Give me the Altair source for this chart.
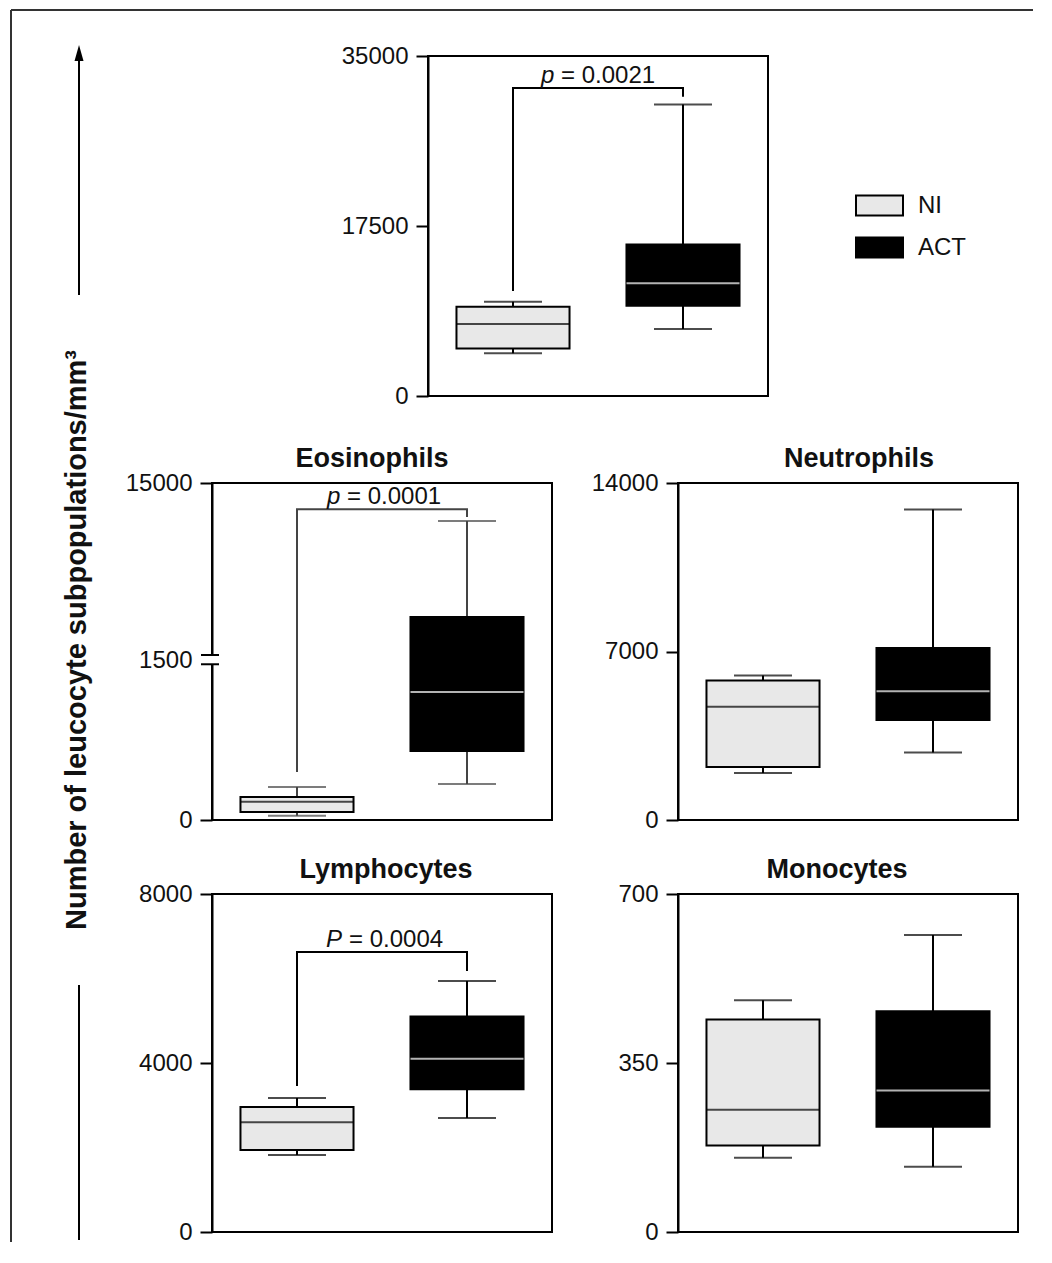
import altair as alt
import pandas as pd

groups = ["NI", "ACT"]
# each list: [lower whisker, Q1, median, Q3, upper whisker]
total_NI = [4400, 4900, 7400, 9200, 9700]
total_ACT = [6900, 9300, 11600, 15600, 30000]
eos_NI = [40, 75, 170, 215, 310]
eos_ACT = [337, 647, 1200, 4780, 12100]
neut_NI = [1950, 2200, 4700, 5800, 6000]
neut_ACT = [2800, 4150, 5350, 7150, 12900]
lymph_NI = [1820, 1940, 2600, 2960, 3170]
lymph_ACT = [2700, 3380, 4100, 5100, 5940]
mono_NI = [154, 179, 253, 440, 480]
mono_ACT = [135, 218, 293, 457, 615]

total_ticks = [0, 17500, 35000]
eos_ticks = [0, 1500, 15000]
neut_ticks = [0, 7000, 14000]
lymph_ticks = [0, 4000, 8000]
mono_ticks = [0, 350, 700]

# significance brackets: [NI leg bottom, bracket level, ACT leg bottom]
total_bracket = [10800, 31700, 30800]
eos_bracket = [450, 13000, 12400]
lymph_bracket = [3456, 6630, 6180]
eos_break = [1460, 1880]

FONT = "Liberation Sans"
W = 340
BW = 113
NI_FILL = "#e8e8e8"
Y_TITLE = "Number of leucocyte subpopulations/mm\u00b3"


def panel(ni, act, ticks, height, yscale=None, title=None, title_dx=0,
          bracket=None, p_letter=None, p_rest=None, p_x=113, p_gap=20,
          line_color="black", legend=None, extra=None, tick_color="black", x0=0):
    df = pd.DataFrame({
        "group": groups,
        "lo": [ni[0], act[0]], "q1": [ni[1], act[1]], "med": [ni[2], act[2]],
        "q3": [ni[3], act[3]], "hi": [ni[4], act[4]],
        "mc": ["black", "white"],
    })
    if yscale is None:
        yscale = alt.Scale(domain=[ticks[0], ticks[-1]], nice=False, zero=True)
    axis = alt.Axis(values=ticks, format="d", grid=False, tickColor=tick_color, offset=-x0)

    def Y(field):
        return alt.Y(f"{field}:Q", scale=yscale, axis=axis, title=None)

    if x0 == 0:
        xscale = alt.Scale(domain=groups, paddingInner=0.335, paddingOuter=0.1675)
    else:
        xscale = alt.Scale(domain=groups, paddingInner=0.335, paddingOuter=0.1675,
                           range=[x0, x0 + W])
    X = alt.X("group:N", sort=groups, axis=None, title=None, scale=xscale)
    base = alt.Chart(df)
    layers = [
        base.mark_rule(color=line_color, strokeWidth=2).encode(x=X, y=Y("lo"), y2="q1"),
        base.mark_rule(color=line_color, strokeWidth=2).encode(x=X, y=Y("q3"), y2="hi"),
        base.mark_tick(size=58, thickness=2, color=line_color).encode(x=X, y=Y("lo")),
        base.mark_tick(size=58, thickness=2, color=line_color).encode(x=X, y=Y("hi")),
        base.mark_bar(stroke="black", strokeWidth=2).encode(
            x=X, y=Y("q1"), y2="q3",
            fill=alt.Fill("group:N", scale=alt.Scale(domain=groups, range=[NI_FILL, "black"]),
                          legend=legend)),
        base.mark_tick(size=BW, thickness=2).encode(
            x=X, y=Y("med"), color=alt.Color("mc:N", scale=None)),
    ]
    if bracket is not None:
        bdf = pd.DataFrame({"group": ["NI", "NI", "ACT", "ACT"],
                            "v": [bracket[0], bracket[1], bracket[1], bracket[2]],
                            "o": [0, 1, 2, 3]})
        layers.append(alt.Chart(bdf).mark_line(color=line_color, strokeWidth=2).encode(
            x=X, y=Y("v"), order="o:Q"))
        tdf = pd.DataFrame({"v": [bracket[1]]})
        layers.append(alt.Chart(tdf).mark_text(
            text=p_letter, fontStyle="italic", align="left", baseline="alphabetic",
            dy=-5, fontSize=24, font=FONT, color="#111").encode(x=alt.value(x0 + p_x), y=Y("v")))
        layers.append(alt.Chart(tdf).mark_text(
            text=p_rest, align="left", baseline="alphabetic",
            dy=-5, fontSize=24, font=FONT, color="#111").encode(
            x=alt.value(x0 + p_x + p_gap), y=Y("v")))
    if extra is not None:
        layers.extend(extra(Y))
    props = dict(width=W, height=height)
    if title:
        props["title"] = alt.TitleParams(title, fontSize=27, font=FONT, fontWeight="bold",
                                         frame="group", anchor="middle", baseline="alphabetic",
                                         offset=-23, dx=title_dx, color="#111")
    return alt.layer(*layers).properties(**props)


dummy = pd.DataFrame({"a": [0]})
TX = -250  # top panel plot-left relative to its grid cell


def top_decor(Y):
    return [
        # frame of the top panel
        alt.Chart(dummy).mark_rect(fill="transparent", stroke="black", strokeWidth=2).encode(
            x=alt.value(TX), x2=alt.value(TX + W), y=alt.value(0), y2=alt.value(340)),
        # outer figure border
        alt.Chart(dummy).mark_rule(color="#333", strokeWidth=2).encode(
            x=alt.value(-667), y=alt.value(-46), y2=alt.value(1186)),
        alt.Chart(dummy).mark_rule(color="#333", strokeWidth=2).encode(
            x=alt.value(-667), x2=alt.value(355), y=alt.value(-46)),
        # axis-title arrow
        alt.Chart(dummy).mark_rule(color="black", strokeWidth=2).encode(
            x=alt.value(-599), y=alt.value(4), y2=alt.value(239)),
        alt.Chart(dummy).mark_point(shape="M0,-1L0.45,0.6L-0.45,0.6Z", filled=True, size=400,
                                    color="black", opacity=1).encode(
            x=alt.value(-599), y=alt.value(-1)),
        alt.Chart(dummy).mark_rule(color="black", strokeWidth=2).encode(
            x=alt.value(-599), y=alt.value(929), y2=alt.value(1184)),
        alt.Chart(dummy).mark_text(text=Y_TITLE, angle=270, fontSize=29, fontWeight="bold",
                                   font=FONT, color="#111", align="center", baseline="middle").encode(
            x=alt.value(-601), y=alt.value(584)),
    ]


def eos_decor(Y):
    bdf = pd.DataFrame({"v": eos_break})
    gdf = pd.DataFrame({"a": [eos_break[0]], "b": [eos_break[1]]})
    return [
        alt.Chart(gdf).mark_rule(color="white", strokeWidth=5).encode(
            x=alt.value(0), y=Y("a"), y2="b"),
        alt.Chart(bdf).mark_rule(color="black", strokeWidth=2).encode(
            x=alt.value(-11), x2=alt.value(7), y=Y("v")),
    ]


legend = alt.Legend(title=None, orient="none", legendX=643, legendY=125,
                    symbolType="M-1,-0.425H1V0.425H-1Z", symbolSize=2209,
                    symbolStrokeColor="black", symbolStrokeWidth=2,
                    labelFont=FONT, labelFontSize=24, labelColor="#111",
                    labelOffset=14, rowPadding=3, padding=0)

top = panel(total_NI, total_ACT, total_ticks, 340, bracket=total_bracket,
            p_letter="p", p_rest="= 0.0021", p_x=113, p_gap=20, legend=legend,
            extra=top_decor, x0=TX).properties(view=alt.ViewBackground(stroke="transparent"))

eos_scale = alt.Scale(domain=[0, 1500, 15000], range=[337, 177, 0], nice=False, zero=False)
eos_tick_color = {"condition": {"test": "datum.value === 1500", "value": "transparent"},
                  "value": "black"}
eos = panel(eos_NI, eos_ACT, eos_ticks, 337, yscale=eos_scale, title="Eosinophils", title_dx=-10,
            bracket=eos_bracket, p_letter="p", p_rest="= 0.0001", p_x=115, p_gap=20,
            line_color="#444", extra=eos_decor, tick_color=eos_tick_color)
neut = panel(neut_NI, neut_ACT, neut_ticks, 337, title="Neutrophils", title_dx=11)
lymph = panel(lymph_NI, lymph_ACT, lymph_ticks, 338, title="Lymphocytes", title_dx=4,
              bracket=lymph_bracket, p_letter="P", p_rest="= 0.0004", p_x=114, p_gap=23)
mono = panel(mono_NI, mono_ACT, mono_ticks, 338, title="Monocytes", title_dx=-11)

spacer = alt.Chart(dummy).mark_point(opacity=0).encode(
    x=alt.value(0), y=alt.value(0)
).properties(width=90, height=353, view=alt.ViewBackground(stroke="transparent"))

chart = alt.concat(
    spacer, top, eos, neut, lymph, mono,
    columns=2,
    spacing={"row": 74, "column": 126},
    bounds="flush",
    align={"row": "each", "column": "each"},
).properties(
    padding={"left": 1, "top": 0, "right": 0, "bottom": 0}
).configure_view(
    stroke="black", strokeWidth=2
).configure_axis(
    labelFont=FONT, labelFontSize=24, labelColor="#111", labelPadding=8,
    tickSize=12, tickWidth=2, domainColor="black", domainWidth=2,
)

chart.save("out.html", embed_options={"renderer": "svg", "actions": False})
